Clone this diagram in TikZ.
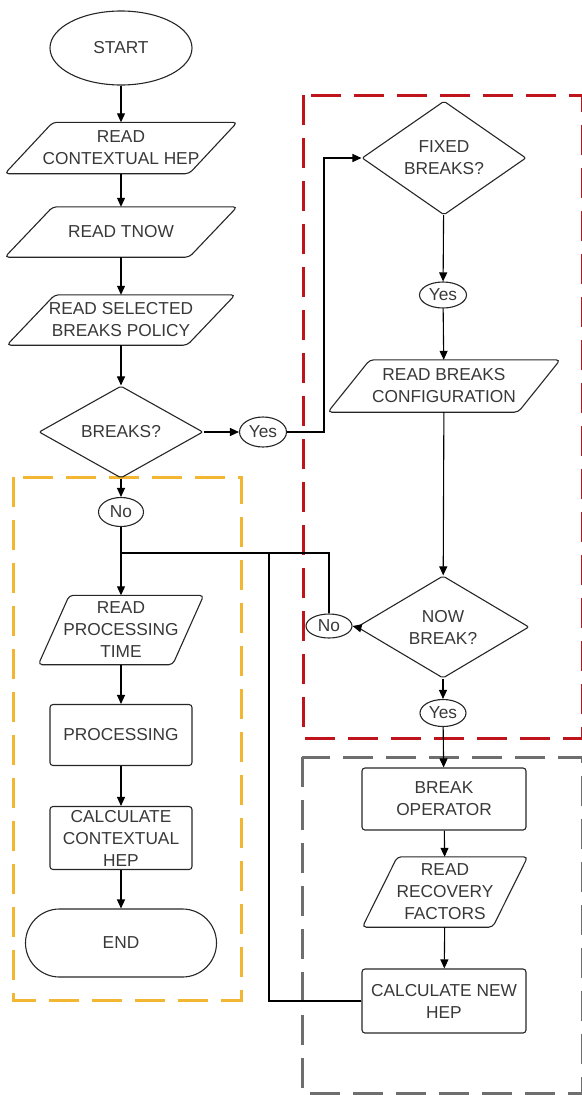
\documentclass[tikz,border=0pt]{standalone}
\usepackage{fontspec}
\setmainfont{Liberation Sans}
\usetikzlibrary{shapes.geometric,arrows.meta,calc}
\definecolor{txt}{HTML}{383838}
\definecolor{edge}{HTML}{262626}
\definecolor{grpred}{HTML}{C0141C}
\definecolor{grpyellow}{HTML}{F2B630}
\definecolor{grpgray}{HTML}{6E6E6E}

\tikzset{
  base/.style={draw=edge, line width=1.1pt, text=txt,
    font=\fontsize{17.3}{22}\selectfont, align=center, inner sep=0pt},
  procbox/.style={base, rectangle, rounded corners=3pt},
  iobox/.style={rectangle, text=txt, font=\fontsize{17.3}{22}\selectfont,
    align=center, inner sep=0pt},
  decision/.style={base, diamond, rounded corners=2pt},
  answer/.style={base, ellipse},
  terminal/.style={base, ellipse},
  arr/.style={draw=black, line width=1.1pt, -{Triangle[length=9pt,width=8pt]}},
  link/.style={draw=black, line width=1.1pt},
  group/.style={line width=3pt, dash pattern=on 30pt off 13pt},
}

% parallelogram drawn around an invisible rectangle node (#1), slant #2
\newcommand{\slantbox}[2]{%
  \draw[line width=1.1pt, draw=edge, rounded corners=4pt]
    ($(#1.north west)+(#2/2,0)$) -- ($(#1.north east)+(#2/2,0)$) --
    ($(#1.south east)-(#2/2,0)$) -- ($(#1.south west)-(#2/2,0)$) -- cycle;}

\begin{document}
\begin{tikzpicture}[x=1pt,y=-1pt]
\useasboundingbox (0,0) rectangle (581,1095);

% grouping frames
\draw[group, grpred]    (303,95)  rectangle (582,738);
\draw[group, grpyellow] (13,477)  rectangle (241,1000);
\draw[group, grpgray]   (302,757) rectangle (582,1093);

% main column
\node[terminal, minimum width=142pt, minimum height=74pt] (start) at (121,48) {START};
\node[iobox, minimum width=184pt, minimum height=51pt] (rch) at (121,148) {READ\\CONTEXTUAL HEP};
\node[iobox, minimum width=184pt, minimum height=50pt] (tnow) at (121,232) {READ TNOW};
\node[iobox, minimum width=180pt, minimum height=50pt] (rsel) at (121,320) {READ SELECTED\\BREAKS POLICY};
\node[decision, minimum width=164pt, minimum height=90pt] (brk) at (121,432) {BREAKS?};
\node[answer, minimum width=47pt, minimum height=30pt] (yes1) at (263,432) {Yes};

\node[answer, minimum width=45pt, minimum height=29pt] (no1) at (121,512) {No};
\node[iobox, minimum width=134pt, minimum height=69pt] (rpt) at (121,630) {READ\\PROCESSING\\TIME};
\node[procbox, minimum width=142pt, minimum height=61pt] (proc) at (121,735) {PROCESSING};
\node[procbox, minimum width=142pt, minimum height=63pt] (cch) at (121,838) {CALCULATE\\CONTEXTUAL\\HEP};
\node[base, rectangle, rounded corners=34pt, minimum width=191pt, minimum height=68pt] (end) at (121,943) {END};

% breaks column
\node[decision, minimum width=164pt, minimum height=92pt] (fixed) at (444,158) {FIXED\\BREAKS?};
\node[answer, minimum width=47pt, minimum height=26pt] (yes2) at (443,295) {Yes};
\node[iobox, minimum width=190pt, minimum height=52pt] (rbc) at (444,386) {READ BREAKS\\CONFIGURATION};
\node[decision, minimum width=172pt, minimum height=94pt] (now) at (443,627) {NOW\\BREAK?};
\node[answer, minimum width=46pt, minimum height=24pt] (no2) at (329,626) {No};
\node[answer, minimum width=46pt, minimum height=27pt] (yes3) at (443,713) {Yes};
\node[procbox, minimum width=164pt, minimum height=62pt] (bop) at (444,799) {BREAK\\OPERATOR};
\node[iobox, minimum width=130pt, minimum height=70pt] (rrf) at (445,892) {READ\\RECOVERY\\FACTORS};
\node[procbox, minimum width=164pt, minimum height=64pt] (cnh) at (444,1001) {CALCULATE NEW\\HEP};

% parallelogram outlines
\slantbox{rch}{48}
\slantbox{tnow}{48}
\slantbox{rsel}{48}
\slantbox{rpt}{31}
\slantbox{rbc}{42}
\slantbox{rrf}{35}

% junction points of the loop-back lines
\coordinate (merge) at (121,553);
\coordinate (turn) at (324,432);

% connectors
\draw[arr] (start) -- (rch);
\draw[arr] (rch) -- (tnow);
\draw[arr] (tnow) -- (rsel);
\draw[arr] (rsel) -- (brk);
\draw[arr] (brk) -- (no1);
\draw[arr] (brk) -- (yes1);
\draw[arr] (yes1.east) -- (turn) |- (fixed.west);
\draw[arr] (fixed) -- (yes2);
\draw[arr] (yes2) -- (rbc);
\draw[arr] (rbc) -- (now);
\draw[arr] (now.west) -- (no2.east);
\draw[link] (no2.north) |- (merge);
\draw[arr] (no1) -- (rpt);
\draw[arr] (rpt) -- (proc);
\draw[arr] (proc) -- (cch);
\draw[arr] (cch) -- (end);
\draw[arr] (now) -- (yes3);
\draw[arr] (yes3) -- (bop);
\draw[arr] (bop) -- (rrf);
\draw[arr] (rrf) -- (cnh);
\draw[link] (cnh.west) -- (269,1001) -- (269,553);
\end{tikzpicture}
\end{document}
